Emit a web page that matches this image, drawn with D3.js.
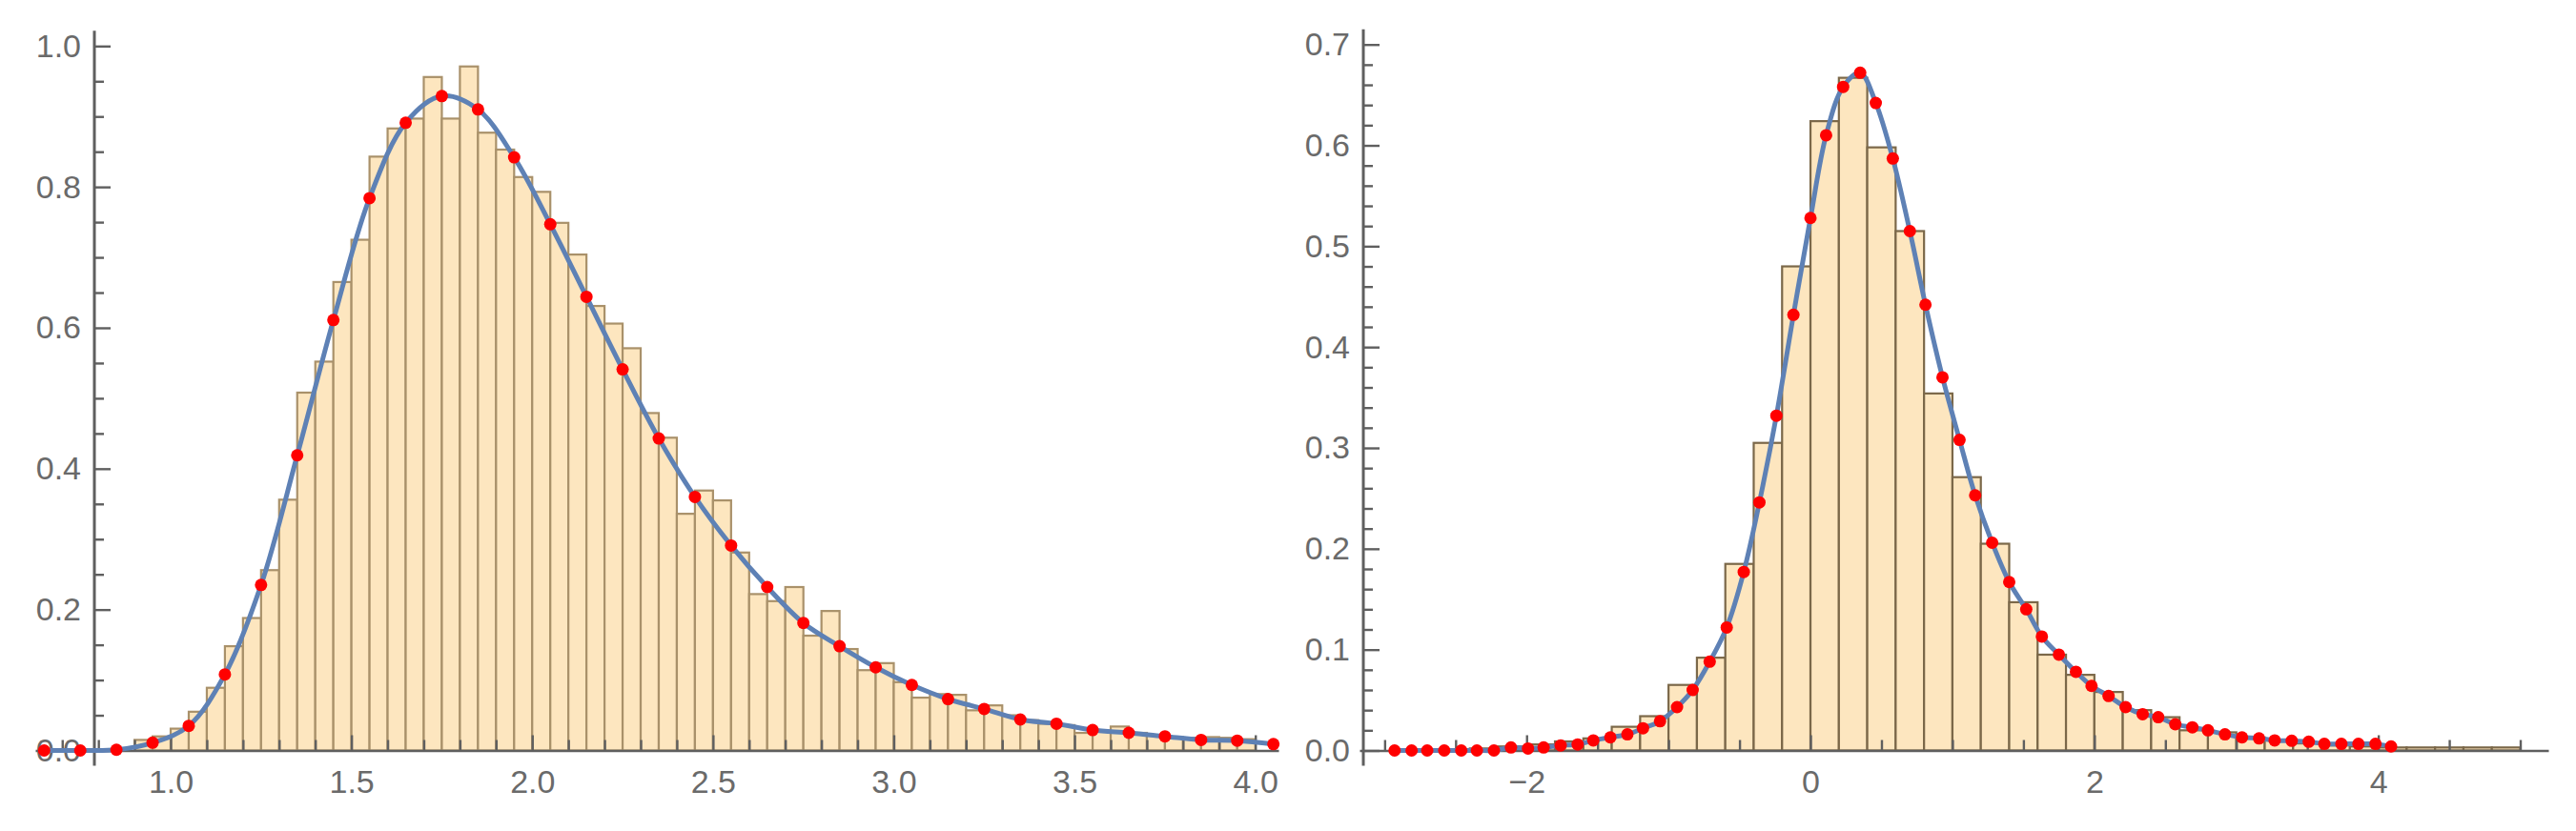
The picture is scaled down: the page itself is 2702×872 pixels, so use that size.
<!DOCTYPE html>
<html><head><meta charset="utf-8">
<script src="https://cdn.jsdelivr.net/npm/d3@7"></script>
<style>html,body{margin:0;padding:0;background:#fff;} svg{display:block}</style>
</head><body>
<svg id="chart" width="2702" height="872"></svg>
<script>
// ---------- LEFT PANEL DATA ----------
const leftBinWidth = 0.05;
const leftBinStart = [0.90,0.95,1.00,1.05,1.10,1.15,1.20,1.25,1.30,1.35,1.40,1.45,1.50,1.55,1.60,1.65,1.70,1.75,1.80,1.85,1.90,1.95,2.00,2.05,2.10,2.15,2.20,2.25,2.30,2.35,2.40,2.45,2.50,2.55,2.60,2.65,2.70,2.75,2.80,2.85,2.90,2.95,3.00,3.05,3.10,3.15,3.20,3.25,3.30,3.35,3.40,3.45,3.50,3.55,3.60,3.65,3.70,3.75,3.80,3.85,3.90,3.95];
const leftBinHeight = [0.015,0.020,0.031,0.055,0.089,0.148,0.188,0.256,0.356,0.508,0.552,0.665,0.725,0.843,0.883,0.897,0.956,0.897,0.971,0.877,0.853,0.814,0.793,0.749,0.704,0.631,0.606,0.571,0.479,0.444,0.336,0.369,0.355,0.281,0.222,0.212,0.232,0.163,0.198,0.144,0.114,0.124,0.097,0.075,0.080,0.079,0.057,0.064,0.050,0.043,0.038,0.036,0.025,0.027,0.034,0.025,0.021,0.019,0.018,0.019,0.018,0.016];
const leftDotX = [0.65,0.75,0.85,0.95,1.05,1.15,1.25,1.35,1.45,1.55,1.65,1.75,1.85,1.95,2.05,2.15,2.25,2.35,2.45,2.55,2.65,2.75,2.85,2.95,3.05,3.15,3.25,3.35,3.45,3.55,3.65,3.75,3.85,3.95,4.05];
const leftDotY = [0.000,0.000,0.001,0.011,0.035,0.108,0.235,0.419,0.611,0.784,0.891,0.929,0.910,0.842,0.747,0.644,0.541,0.443,0.360,0.291,0.232,0.181,0.148,0.118,0.093,0.073,0.059,0.044,0.038,0.029,0.025,0.020,0.015,0.014,0.009];
const leftXMajor = [1.0,1.5,2.0,2.5,3.0,3.5,4.0];
const leftXMinor = [0.7,0.8,0.9,1.1,1.2,1.3,1.4,1.6,1.7,1.8,1.9,2.1,2.2,2.3,2.4,2.6,2.7,2.8,2.9,3.1,3.2,3.3,3.4,3.6,3.7,3.8,3.9];
const leftYMajor = [0.0,0.2,0.4,0.6,0.8,1.0];
const leftYMinor = [0.05,0.10,0.15,0.25,0.30,0.35,0.45,0.50,0.55,0.65,0.70,0.75,0.85,0.90,0.95];

// ---------- RIGHT PANEL DATA ----------
const rightBinWidth = 0.2;
const rightBinStart = [-2.4,-2.2,-2.0,-1.8,-1.6,-1.4,-1.2,-1.0,-0.8,-0.6,-0.4,-0.2,0.0,0.2,0.4,0.6,0.8,1.0,1.2,1.4,1.6,1.8,2.0,2.2,2.4,2.6,2.8,3.0,3.2,3.4,3.6,3.8,4.0,4.2,4.4,4.6,4.8];
const rightBinHeight = [0.002,0.004,0.006,0.009,0.012,0.0235,0.034,0.065,0.092,0.185,0.305,0.480,0.624,0.667,0.598,0.515,0.354,0.271,0.205,0.147,0.095,0.075,0.058,0.040,0.033,0.020,0.018,0.013,0.010,0.007,0.005,0.004,0.003,0.003,0.003,0.003,0.003];
const rightDotX = [-2.93,-2.81,-2.70,-2.58,-2.46,-2.35,-2.23,-2.11,-1.99,-1.88,-1.76,-1.64,-1.53,-1.41,-1.29,-1.18,-1.06,-0.94,-0.83,-0.71,-0.59,-0.47,-0.36,-0.24,-0.12,0.00,0.11,0.23,0.35,0.46,0.58,0.70,0.81,0.93,1.05,1.16,1.28,1.40,1.52,1.63,1.75,1.87,1.98,2.10,2.22,2.34,2.45,2.57,2.69,2.80,2.92,3.04,3.16,3.27,3.39,3.51,3.62,3.74,3.86,3.98,4.09];
const rightDotY = [0.000,0.000,0.000,0.000,0.000,0.000,0.000,0.003,0.002,0.003,0.005,0.006,0.010,0.013,0.016,0.022,0.029,0.043,0.060,0.088,0.122,0.177,0.246,0.332,0.432,0.528,0.610,0.658,0.672,0.642,0.587,0.515,0.442,0.370,0.308,0.253,0.206,0.167,0.140,0.113,0.095,0.078,0.064,0.054,0.043,0.036,0.033,0.026,0.023,0.020,0.016,0.013,0.012,0.010,0.0096,0.0087,0.0065,0.0065,0.0065,0.0065,0.004];
const rightXMajor = [-2,0,2,4];
const rightXMinor = [-3,-2.5,-1.5,-1,-0.5,0.5,1,1.5,2.5,3,3.5,4.5,5];
const rightYMajor = [0.0,0.1,0.2,0.3,0.4,0.5,0.6,0.7];
const rightYMinor = [0.02,0.04,0.06,0.08,0.12,0.14,0.16,0.18,0.22,0.24,0.26,0.28,0.32,0.34,0.36,0.38,0.42,0.44,0.46,0.48,0.52,0.54,0.56,0.58,0.62,0.64,0.66,0.68];

const svg = d3.select("#chart");
const AXIS = "#5f5f5f", LABEL = "#6a6a6a";
const FONT = "'Liberation Sans', Arial, Helvetica, sans-serif";

function panel(o) {
  const g = svg.append("g");
  const x = o.x, y = o.y;
  // bars
  g.append("g").selectAll("rect").data(o.binStart.map((s,i)=>({s, h:o.binHeight[i]})))
    .join("rect")
    .attr("x", d => x(d.s))
    .attr("width", d => x(d.s + o.binWidth) - x(d.s))
    .attr("y", d => y(d.h))
    .attr("height", d => y(0) - y(d.h))
    .attr("fill", "#fde6bf")
    .attr("stroke", o.edge)
    .attr("stroke-width", 2.2);

  // axes
  const styleAxis = sel => {
    sel.selectAll(".tick line").attr("stroke", AXIS).attr("stroke-width", 2.4);
    sel.selectAll(".tick text").attr("fill", LABEL).style("font-family", FONT).style("font-size", "34px");
  };
  const xMinor = g.append("g").attr("transform", `translate(0,${y(0)})`)
    .call(d3.axisBottom(x).tickValues(o.xMinor).tickSize(-11).tickSizeOuter(0).tickFormat(""));
  xMinor.select(".domain").remove(); styleAxis(xMinor);
  const xMajor = g.append("g").attr("transform", `translate(0,${y(0)})`)
    .call(d3.axisBottom(x).tickValues(o.xMajor).tickSize(-16).tickSizeOuter(0).tickPadding(20).tickFormat(o.xFmt));
  xMajor.select(".domain").attr("stroke", AXIS).attr("stroke-width", 2.6);
  styleAxis(xMajor);

  const yMinor = g.append("g").attr("transform", `translate(${o.yAxisX},0)`)
    .call(d3.axisLeft(y).tickValues(o.yMinor).tickSize(-10).tickSizeOuter(0).tickFormat(""));
  yMinor.select(".domain").remove(); styleAxis(yMinor);
  const yMajor = g.append("g").attr("transform", `translate(${o.yAxisX},0)`)
    .call(d3.axisLeft(y).tickValues(o.yMajor).tickSize(-17).tickSizeOuter(0).tickPadding(14).tickFormat(d3.format(".1f")));
  yMajor.select(".domain").remove(); styleAxis(yMajor);
  g.append("line")
    .attr("x1", o.yAxisX).attr("x2", o.yAxisX)
    .attr("y1", y(o.yMajor[o.yMajor.length-1]) - 16).attr("y2", y(0) + 16)
    .attr("stroke", AXIS).attr("stroke-width", 3);

  // curve
  const pts = o.dotX.map((v,i)=>[v, o.dotY[i]]);
  g.append("path").datum(pts)
    .attr("fill","none").attr("stroke","#5e81b5").attr("stroke-width",5)
    .attr("stroke-linejoin","round").attr("stroke-linecap","round")
    .attr("d", d3.line().x(d=>x(d[0])).y(d=>y(d[1])).curve(d3.curveCatmullRom.alpha(0.5)));
  // dots
  g.append("g").selectAll("circle").data(pts).join("circle")
    .attr("cx", d=>x(d[0])).attr("cy", d=>y(d[1])).attr("r", 6.5).attr("fill", "#ff0000");
}

const xL = d3.scaleLinear().domain([0.6255, 4.064]).range([37, 1341]);
const yL = d3.scaleLinear().domain([0, 1]).range([787.5, 48.3]);
panel({x:xL, y:yL, binStart:leftBinStart, binHeight:leftBinHeight, binWidth:leftBinWidth,
  dotX:leftDotX, dotY:leftDotY, xMajor:leftXMajor, xMinor:leftXMinor, yMajor:leftYMajor, yMinor:leftYMinor,
  xFmt:d3.format(".1f"), yAxisX: xL(0.789), edge:"#a9916a"});

const xR = d3.scaleLinear().domain([-3.177, 5.198]).range([1426, 2673]);
const yR = d3.scaleLinear().domain([0, 0.7]).range([787.5, 46.7]);
panel({x:xR, y:yR, binStart:rightBinStart, binHeight:rightBinHeight, binWidth:rightBinWidth,
  dotX:rightDotX, dotY:rightDotY, xMajor:rightXMajor, xMinor:rightXMinor, yMajor:rightYMajor, yMinor:rightYMinor,
  xFmt:d3.format("d"), yAxisX: xR(-3.15), edge:"#7b6849"});
</script>
</body></html>
